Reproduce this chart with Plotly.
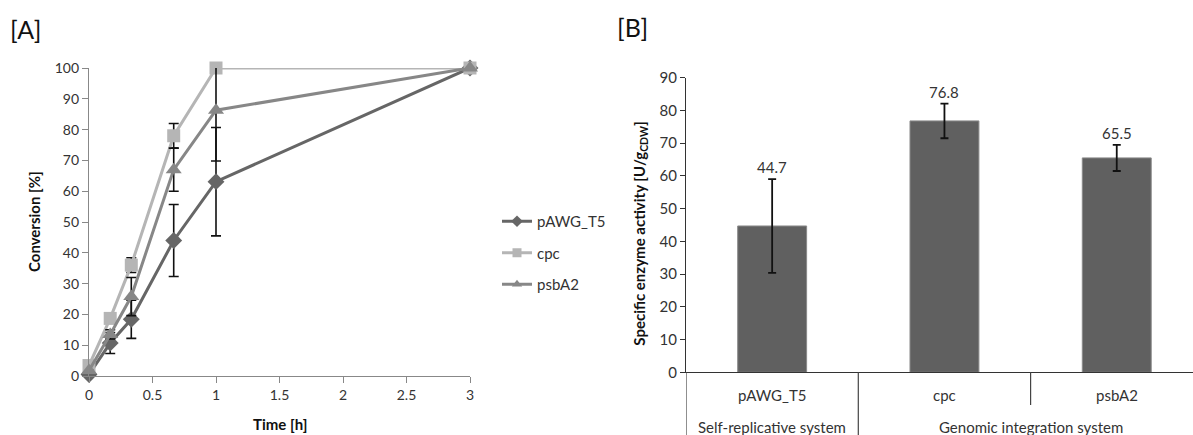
import plotly.graph_objects as go

# ---------------- data: panel A ----------------
time_h = [0, 0.167, 0.333, 0.667, 1, 3]
pawg = [0.5, 10.7, 18.4, 44.0, 63.1, 100]
pawg_err = [0, 3.4, 6.2, 11.7, 17.6, 0]
cpc = [3.4, 18.7, 36.0, 78.0, 100, 100]
cpc_err = [0, 1.5, 2.4, 4.0, 0, 0]
psba2 = [1.8, 13.5, 25.8, 67.0, 86.3, 100]
psba2_err = [0, 1.5, 6.2, 7.0, 16.5, 0]

series_names = ["pAWG_T5", "cpc", "psbA2"]
series_values = [pawg, cpc, psba2]
series_errors = [pawg_err, cpc_err, psba2_err]
series_colors = ["#666666", "#b5b5b5", "#878787"]
series_symbols = ["diamond", "square", "triangle-up"]
series_sizes = [13, 13, 14]

xticks_a = [0, 0.5, 1, 1.5, 2, 2.5, 3]
yticks_a = list(range(0, 101, 10))

# ---------------- data: panel B ----------------
strains = ["pAWG_T5", "cpc", "psbA2"]
activity = [44.7, 76.8, 65.5]
activity_err = [14.3, 5.3, 4.0]
systems = ["Self-replicative system", "Genomic integration system"]
strain_system = [0, 1, 1]
yticks_b = list(range(0, 91, 10))

W, H = 1193, 435
FONT = "Lato"
TXT = "#333333"

fig = go.Figure()

for name, vals, errs, col, sym, sz in zip(series_names, series_values, series_errors,
                                          series_colors, series_symbols, series_sizes):
    fig.add_trace(go.Scatter(
        x=time_h, y=vals, name=name, mode="lines+markers",
        line=dict(color=col, width=3),
        marker=dict(symbol=sym, size=sz, color=col),
        error_y=dict(type="data", array=errs, visible=True, color="#111111",
                     thickness=1.6, width=5),
        cliponaxis=False, showlegend=False,
        xaxis="x", yaxis="y",
    ))

# legend-only entries with small markers (as in the reference legend)
for name, col, sym in zip(series_names, series_colors, series_symbols):
    fig.add_trace(go.Scatter(
        x=[None], y=[None], name=name, mode="lines+markers",
        line=dict(color=col, width=3),
        marker=dict(symbol=sym, size=9, color=col),
        legendgroup=name, xaxis="x", yaxis="y",
    ))

bar_idx = list(range(len(strains)))
fig.add_trace(go.Bar(
    x=bar_idx, y=activity, width=0.4,
    marker=dict(color="#606060", line=dict(color="#8a8a8a", width=1)),
    error_y=dict(type="data", array=activity_err, visible=True, color="#111111",
                 thickness=1.8, width=4),
    showlegend=False, xaxis="x2", yaxis="y2",
))


def px_x(p):
    return p / W


def px_y(p):
    return 1 - p / H


xa_dom = [px_x(89), px_x(470)]
ya_dom = [px_y(376), px_y(68)]
xb_dom = [px_x(686), 1.0]
yb_dom = [px_y(372.3), px_y(77.7)]
cat_w_px = 172.3
xb_range = [-0.5, -0.5 + (W - 686) / cat_w_px]

annotations = []
annotations.append(dict(text="[A]", x=px_x(8), y=px_y(12), xref="paper", yref="paper",
                        xanchor="left", yanchor="top", showarrow=False,
                        font=dict(size=25, color="#111111", family=FONT)))
annotations.append(dict(text="[B]", x=px_x(615), y=px_y(10), xref="paper", yref="paper",
                        xanchor="left", yanchor="top", showarrow=False,
                        font=dict(size=25, color="#111111", family=FONT)))
annotations.append(dict(text="<b>Conversion [%]</b>", x=px_x(34), y=(ya_dom[0] + ya_dom[1]) / 2,
                        xref="paper", yref="paper", textangle=-90, showarrow=False,
                        xanchor="center", yanchor="middle",
                        font=dict(size=15, color="#111111", family=FONT)))
annotations.append(dict(text="<b>Time [h]</b>", x=(xa_dom[0] + xa_dom[1]) / 2, y=px_y(424),
                        xref="paper", yref="paper", showarrow=False,
                        xanchor="center", yanchor="middle",
                        font=dict(size=15, color="#111111", family=FONT)))
annotations.append(dict(text="<b>Specific enzyme activity [U/g<sub>CDW</sub>]</b>",
                        x=px_x(640), y=(yb_dom[0] + yb_dom[1]) / 2 - 0.02,
                        xref="paper", yref="paper", textangle=-90, showarrow=False,
                        xanchor="center", yanchor="middle",
                        font=dict(size=15, color="#111111", family=FONT)))
for i, (v, e) in enumerate(zip(activity, activity_err)):
    annotations.append(dict(text=f"{v:.1f}", x=i, y=v + e, xref="x2", yref="y2",
                            xanchor="center", yanchor="bottom", yshift=1, showarrow=False,
                            font=dict(size=15, color=TXT, family=FONT)))
for i, s in enumerate(strains):
    annotations.append(dict(text=s, x=i, y=px_y(395), xref="x2", yref="paper",
                            xanchor="center", yanchor="middle",
                            showarrow=False, font=dict(size=15, color=TXT, family=FONT)))
for k, sysname in enumerate(systems):
    members = [i for i, g in enumerate(strain_system) if g == k]
    cx = sum(members) / len(members)
    annotations.append(dict(text=sysname, x=cx, y=px_y(427), xref="x2", yref="paper",
                            xanchor="center", yanchor="middle",
                            showarrow=False, font=dict(size=15, color=TXT, family=FONT)))

shapes = []
for k in range(len(systems) + 1):
    bx = -0.5 if k == 0 else max(i for i, g in enumerate(strain_system) if g == k - 1) + 0.5
    shapes.append(dict(type="line", xref="x2", yref="paper", x0=bx, x1=bx,
                       y0=yb_dom[0], y1=0, line=dict(color="#444444", width=1.2)))
for i in range(len(strains) - 1):
    if strain_system[i] == strain_system[i + 1]:
        shapes.append(dict(type="line", xref="x2", yref="paper", x0=i + 0.5, x1=i + 0.5,
                           y0=yb_dom[0], y1=px_y(405), line=dict(color="#444444", width=1.2)))

fig.update_layout(
    width=W, height=H,
    margin=dict(l=0, r=0, t=0, b=0, pad=0, autoexpand=False),
    paper_bgcolor="white", plot_bgcolor="white",
    font=dict(family=FONT, color=TXT, size=14),
    showlegend=True,
    legend=dict(x=px_x(497), y=px_y(205), xanchor="left", yanchor="top",
                font=dict(size=15, color=TXT, family=FONT), tracegroupgap=9,
                bgcolor="rgba(0,0,0,0)"),
    xaxis=dict(domain=xa_dom, range=[0, 3], tickvals=xticks_a,
               ticktext=[f"{t:g}" for t in xticks_a],
               showline=True, linecolor="#888888", linewidth=1.2,
               ticks="outside", ticklen=6, tickcolor="#888888",
               showgrid=False, zeroline=False, anchor="y", automargin=False,
               tickfont=dict(size=14, color=TXT)),
    yaxis=dict(domain=ya_dom, range=[0, 100], tickvals=yticks_a,
               showline=True, linecolor="#888888", linewidth=1.2,
               ticks="outside", ticklen=6, tickcolor="#888888",
               showgrid=False, zeroline=False, anchor="x", automargin=False,
               tickfont=dict(size=14, color=TXT)),
    xaxis2=dict(domain=xb_dom, range=xb_range, showticklabels=False,
                showline=True, linecolor="#333333", linewidth=1.2,
                ticks="", showgrid=False, zeroline=False, anchor="y2", automargin=False),
    yaxis2=dict(domain=yb_dom, range=[0, 90], tickvals=yticks_b,
                showline=True, linecolor="#333333", linewidth=1.2,
                ticks="outside", ticklen=5, tickcolor="#333333",
                showgrid=False, zeroline=False, anchor="x2", automargin=False,
                tickfont=dict(size=15, color=TXT)),
    annotations=annotations,
    shapes=shapes,
)

fig.write_html("out.html")
